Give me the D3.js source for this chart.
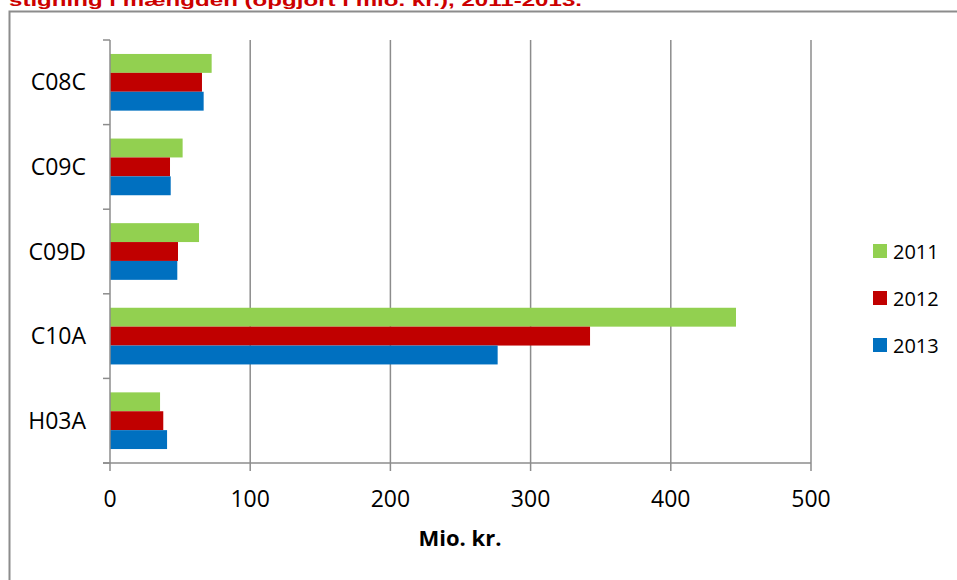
<!DOCTYPE html>
<html><head><meta charset="utf-8">
<script src="https://cdn.jsdelivr.net/npm/d3@7/dist/d3.min.js"></script>
<style>body{margin:0;background:#fff}svg{display:block}</style>
</head><body>
<svg id="c" width="957" height="580"></svg>
<script>
const categories = ["C08C","C09C","C09D","C10A","H03A"];
const seriesNames = ["2011","2012","2013"];
const seriesColors = ["#92d050","#c00000","#0070c0"];
const values2011 = [72.5, 51.8, 63.5, 446.5, 35.7];
const values2012 = [65.6, 42.8, 48.5, 342.4, 38.0];
const values2013 = [66.8, 43.3, 48.0, 276.5, 40.7];
const xTicks = [0,100,200,300,400,500];
const titleText = "stigning i mængden (opgjort i mio. kr.), 2011-2013.";
const xTitle = "Mio. kr.";

const series = [values2011, values2012, values2013];
const svg = d3.select("#c");
const font = "'Open Sans', sans-serif";
const grey = "#8c8c8c";

// outer border
svg.append("rect").attr("x",9.5).attr("y",11.5).attr("width",1000).attr("height",600)
  .attr("fill","none").attr("stroke",grey).attr("stroke-width",2);

// title (clipped at top, as in the reference)
svg.append("text").attr("x",9).attr("y",6).text(titleText)
  .attr("font-family","Arial, 'Liberation Sans', sans-serif").attr("font-weight","bold")
  .attr("font-size",17).attr("fill","#cc0000").attr("textLength",573).attr("lengthAdjust","spacingAndGlyphs");

const x = d3.scaleLinear().domain([0,500]).range([110,811]);
const y = d3.scaleBand().domain(categories).range([40,463]).paddingInner(0.33).paddingOuter(0.165);
const ySub = d3.scaleBand().domain(seriesNames).range([0,y.bandwidth()]);

// vertical gridlines
svg.append("g").selectAll("line").data(xTicks.slice(1)).join("line")
  .attr("x1",d=>x(d)).attr("x2",d=>x(d)).attr("y1",40).attr("y2",471)
  .attr("stroke",grey).attr("stroke-width",1.5);

// bars
categories.forEach((c,i)=>{
  seriesNames.forEach((s,j)=>{
    svg.append("rect").attr("x",x(0)).attr("y",y(c)+ySub(s))
      .attr("width",x(series[j][i])-x(0)).attr("height",ySub.bandwidth())
      .attr("fill",seriesColors[j]);
  });
});

// y axis
const yb = [40].concat(categories.slice(1).map(c=>y(c)-(y.step()-y.bandwidth())/2)).concat([463]);
svg.append("line").attr("x1",x(0)).attr("x2",x(0)).attr("y1",40).attr("y2",471)
  .attr("stroke",grey).attr("stroke-width",1.5);
svg.append("g").selectAll("line").data(yb).join("line")
  .attr("x1",103).attr("x2",x(0)).attr("y1",d=>d).attr("y2",d=>d)
  .attr("stroke",grey).attr("stroke-width",1.5);
svg.append("g").selectAll("text").data(categories).join("text")
  .attr("x",86).attr("y",d=>y(d)+y.bandwidth()/2+8).attr("text-anchor","end")
  .attr("font-family",font).attr("font-size",23).attr("fill","#000").text(d=>d);

// x axis
svg.append("line").attr("x1",103).attr("x2",x(500)).attr("y1",463).attr("y2",463)
  .attr("stroke",grey).attr("stroke-width",1.5);
svg.append("g").selectAll("text").data(xTicks).join("text")
  .attr("x",d=>x(d)).attr("y",507).attr("text-anchor","middle")
  .attr("font-family",font).attr("font-size",23).attr("fill","#000").text(d=>d);
svg.append("text").attr("x",460).attr("y",546).attr("text-anchor","middle")
  .attr("font-family",font).attr("font-weight","bold").attr("font-size",22).attr("fill","#000").text(xTitle);

// legend
const ly = d3.scalePoint().domain(seriesNames).range([251,345]);
seriesNames.forEach((s,j)=>{
  svg.append("rect").attr("x",873).attr("y",ly(s)-7).attr("width",14).attr("height",14).attr("fill",seriesColors[j]);
  svg.append("text").attr("x",893).attr("y",ly(s)+7.5).attr("font-family",font).attr("font-size",20)
    .attr("fill","#000").text(s);
});
</script>
</body></html>
